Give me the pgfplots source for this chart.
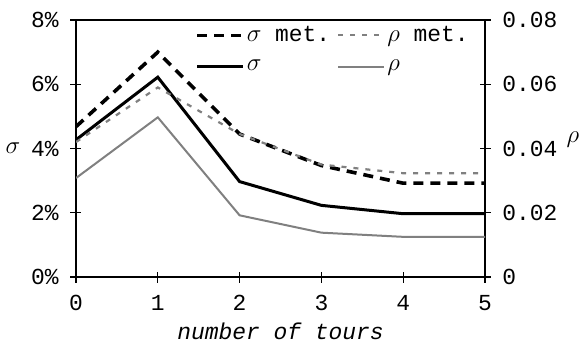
\documentclass[border=0pt]{standalone}
\usepackage{pgfplots}
\pgfplotsset{compat=1.18}
\usepackage{fontspec}
\setmainfont{Liberation Mono}
\newcommand\gs{{\fontsize{25}{27}\selectfont$\sigma$}}
\newcommand\gr{{\fontsize{25}{27}\selectfont$\rho$}}
\begin{document}
\fontsize{23}{27}\selectfont
\begin{tikzpicture}
\pgfplotsset{
  every axis/.append style={
    scale only axis, width=409bp, height=257bp,
    xmin=0, xmax=5,
    axis line style={line width=1.2bp},
    tick style={line width=1.2bp, black},
    major tick length=11bp, tick align=center,
    /pgf/number format/assume math mode=true,
    font=\fontsize{23}{27}\selectfont,
  },
  smet/.style={black, line width=3.6bp, dash pattern=on 10bp off 7bp},
  rmet/.style={black!50, line width=2.2bp, dash pattern=on 5bp off 7bp},
  sig/.style={black, line width=3bp},
  rho/.style={black!50, line width=2bp},
}
\begin{axis}[
  ymin=0, ymax=8,
  axis y line*=left, axis x line*=bottom,
  xtick={0,1,2,3,4,5},
  ytick={0,2,4,6,8},
  yticklabel={\pgfmathprintnumber{\tick}\%},
  yticklabel style={xshift=-4bp},
  xticklabel style={yshift=-5bp},
  xlabel={\itshape number of tours},
  ylabel={\gs},
  ylabel style={rotate=-90, at={(axis description cs:-0.154,0.502)}, anchor=center},
  xlabel style={yshift=-3bp, inner sep=1bp},
  legend columns=2,
  legend cell align=left,
  legend style={draw=none, fill=none, at={(0.291,0.985)}, anchor=north west,
    inner sep=0bp, row sep=11bp, font=\fontsize{23}{27}\selectfont,
    /tikz/every even column/.append style={column sep=5bp}},
  legend image code/.code={\draw[#1] (0bp,0bp) -- (46bp,0bp);},
]
\addplot[smet] coordinates {(0,4.68) (1,7.0) (2,4.45) (3,3.47) (4,2.92) (5,2.92)};
\addlegendentry{\gs{} met.}
\addlegendimage{rmet}
\addlegendentry{\gr{} met.}
\addplot[sig] coordinates {(0,4.27) (1,6.22) (2,2.97) (3,2.23) (4,1.97) (5,1.97)};
\addlegendentry{\gs}
\addlegendimage{rho}
\addlegendentry{\gr}
\end{axis}
\begin{axis}[
  ymin=0, ymax=0.08,
  axis y line*=right, axis x line=none,
  ytick={0,0.02,0.04,0.06,0.08},
  scaled y ticks=false,
  yticklabel style={xshift=4bp, /pgf/number format/fixed, /pgf/number format/precision=2},
  ylabel={\gr},
  ylabel style={rotate=-90, at={(axis description cs:1.215,0.533)}, anchor=center},
]
\addplot[rmet] coordinates {(0,0.042) (1,0.059) (2,0.0445) (3,0.035) (4,0.0323) (5,0.0323)};
\addplot[rho] coordinates {(0,0.0308) (1,0.0497) (2,0.0192) (3,0.0138) (4,0.0125) (5,0.0125)};
\end{axis}
\draw[line width=1.2bp] (0,257bp) -- (409bp,257bp);
\pgfresetboundingbox
\path[use as bounding box] (-76bp,-67bp) rectangle (505bp,277bp);
\end{tikzpicture}
\end{document}
